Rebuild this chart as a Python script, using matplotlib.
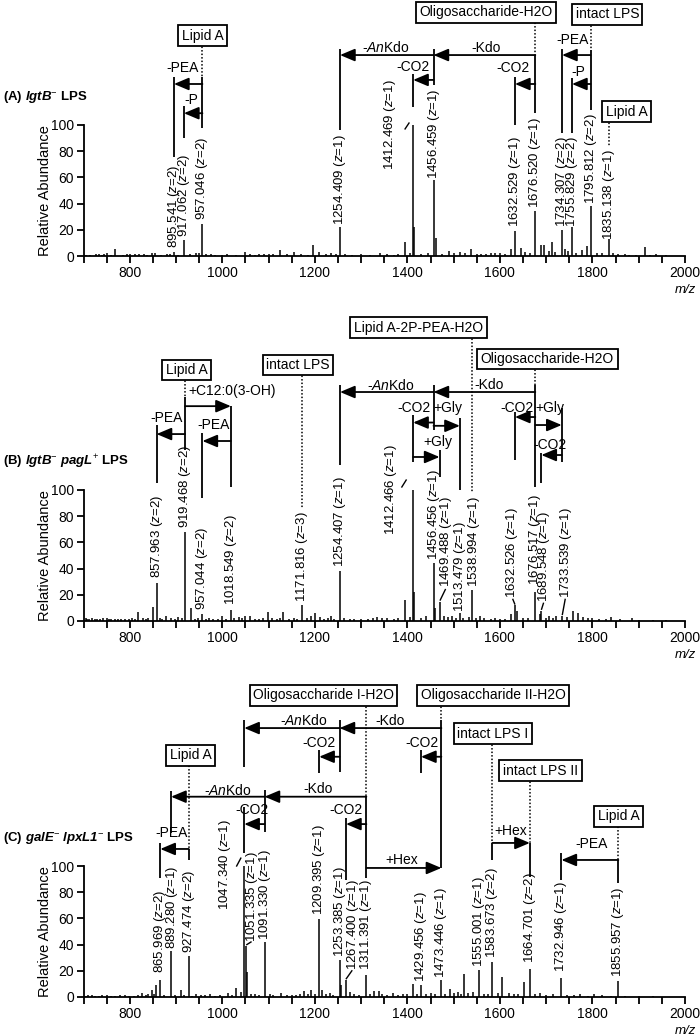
import matplotlib
matplotlib.use("Agg")
import matplotlib.pyplot as plt

plt.rcParams["font.family"] = ["Liberation Sans", "DejaVu Sans"]
plt.rcParams["mathtext.fontset"] = "custom"
plt.rcParams["mathtext.rm"] = "Liberation Sans"
plt.rcParams["mathtext.it"] = "Liberation Sans:italic"
plt.rcParams["mathtext.bf"] = "Liberation Sans:bold"
plt.rcParams["mathtext.bfit"] = "Liberation Sans:italic:bold"

W, H = 700, 1036

# ---- spectra (m/z, relative abundance) ----
A_MZ = [727, 740, 751, 768.5, 800, 812, 830, 855, 868, 895.541, 917.062, 944, 957.046, 975,
        1000, 1048, 1080, 1100, 1125, 1156, 1197, 1209, 1235, 1254.409, 1300, 1340, 1370,
        1395, 1412.469, 1414.5, 1456.459, 1461, 1489, 1513, 1537, 1560, 1581, 1590, 1624,
        1632.529, 1646, 1676.520, 1688, 1696, 1713, 1734.307, 1740, 1755.829, 1778, 1788,
        1795.812, 1835.138, 1856, 1880, 1913, 1938]
A_INT = [1.3, 1.0, 2, 5, 1.5, 1.5, 1.2, 2.5, 1.0, 3, 12, 2.5, 24.6, 1.2,
         1.0, 3, 1.2, 1.5, 4.6, 3, 8.7, 3, 2.5, 22, 1.2, 2, 1.0,
         10.8, 100, 22, 57.7, 14, 4, 3, 5, 1.5, 2.5, 2.5, 5.6,
         19, 6, 34, 8.7, 8.7, 11, 20, 5, 22, 4.6, 7.7,
         38.5, 13, 1.8, 1.0, 7.2, 1.3]
A_NOISE_MZ = [705, 715, 733, 745, 760, 785, 795, 820, 838, 848, 880, 888, 905, 930, 950,
              965, 985, 1010, 1030, 1060, 1070, 1090, 1110, 1140, 1170, 1185, 1225, 1245,
              1265, 1280, 1320, 1355, 1380, 1405, 1430, 1445, 1475, 1500, 1525, 1550, 1570,
              1600, 1610, 1655, 1665, 1705, 1720, 1748, 1765, 1810, 1820, 1845, 1870, 1895,
              1925, 1960]
A_NOISE_INT = [1.0, 0.8, 1.5, 1.2, 1.0, 1.0, 1.2, 1.5, 1.0, 2.0, 1.5, 1.8, 1.0, 1.2, 2.0,
               1.5, 1.0, 1.2, 1.0, 1.5, 1.0, 1.3, 1.5, 1.2, 1.5, 1.0, 1.8, 1.5,
               1.2, 1.0, 1.0, 1.5, 1.8, 2.5, 1.5, 2.0, 1.5, 2.0, 2.5, 1.5, 1.2,
               2.0, 1.5, 3.0, 2.5, 4.0, 3.0, 3.5, 2.5, 2.5, 2.0, 2.0, 1.2, 1.0,
               1.0, 0.8]

B_MZ = [705, 712, 725, 742, 760, 775, 790, 818.7, 840, 849.5, 857.963, 878, 905, 919.468,
        932.5, 957.044, 980, 1000, 1018.549, 1048, 1060, 1098, 1132, 1171.816, 1192, 1200,
        1212, 1235.5, 1254.407, 1300, 1335, 1395, 1412.466, 1414.5, 1456.456, 1460,
        1469.488, 1479.5, 1496, 1513.479, 1532.6, 1538.994, 1556.7, 1600, 1624, 1632.526,
        1637, 1676.517, 1687, 1689.548, 1706, 1721, 1733.539, 1757, 1769, 1779, 1800,
        1841, 1885]
B_INT = [2, 1.5, 1.5, 2, 1.5, 1.5, 1.2, 7, 2, 11, 29, 4, 3, 68,
         10, 5, 1.5, 4, 8.6, 4, 4, 7, 7, 12, 4, 6,
         3, 4, 38, 1.5, 3, 16, 100, 22, 44, 10,
         14.5, 4, 4, 6, 3, 24, 3.5, 1.5, 5, 12,
         8, 22, 5.6, 8, 3.5, 3.5, 4, 8, 6, 3, 2,
         3, 2]
B_NOISE_MZ = [708, 718, 730, 736, 750, 755, 768, 782, 798, 805, 812, 828, 834, 865, 870,
              890, 898, 912, 942, 948, 965, 972, 990, 1008, 1026, 1035, 1042, 1070, 1080,
              1088, 1108, 1118, 1125, 1145, 1155, 1162, 1182, 1220, 1228, 1242, 1262, 1275,
              1285, 1315, 1325, 1345, 1355, 1370, 1380, 1405, 1430, 1440, 1488, 1505, 1520,
              1548, 1565, 1580, 1590, 1612, 1650, 1660, 1700, 1715, 1745, 1790, 1815, 1830,
              1860, 1900, 1930, 1960]
B_NOISE_INT = [1.5, 2.0, 1.8, 1.2, 2.2, 1.5, 1.8, 1.2, 1.5, 2.0, 1.5, 2.5, 1.8, 2.0, 1.5,
               2.2, 1.5, 2.5, 1.5, 2.0, 1.8, 2.0, 1.5, 1.8, 2.0, 3.0, 2.5, 1.5, 1.8,
               2.0, 2.5, 1.5, 2.0, 1.8, 2.5, 1.5, 2.0, 1.8, 2.0, 1.5, 2.0, 1.5,
               1.8, 1.5, 2.0, 2.5, 2.0, 1.5, 2.5, 3.0, 2.5, 3.5, 3.0, 2.5, 2.0,
               2.5, 2.0, 1.5, 2.0, 1.8, 2.0, 2.5, 2.5, 2.0, 3.0, 2.0, 1.5, 1.5,
               1.2, 1.0, 1.0, 0.8]

C_MZ = [710, 725, 740, 760, 790, 810, 826, 847.6, 857, 865.969, 889.280, 910, 927.474, 944,
        973, 1011.6, 1029, 1040.6, 1047.340, 1051.335, 1053.5, 1091.330, 1127, 1150,
        1175.6, 1192, 1209.395, 1216, 1233.5, 1253.385, 1257.6, 1267.400, 1277, 1311.391,
        1328, 1337.7, 1368, 1390, 1412, 1429.456, 1473.446, 1492, 1508.5, 1523, 1542,
        1555.001, 1583.673, 1605, 1619, 1653, 1664.701, 1687, 1732.946, 1774, 1803,
        1855.957, 1900]
C_INT = [1.2, 1, 1.2, 1, 1.5, 1, 3.3, 5, 9, 13, 35.4, 5, 31.6, 2.5,
         2.5, 3, 7, 3.8, 100, 39, 19, 41.8, 3, 1.5,
         4.6, 5, 59.5, 5, 3, 28.4, 9, 12.7, 4, 17,
         4.6, 4.3, 3, 2, 10, 9, 12.7, 6.3, 3.8, 17.7, 4,
         20.3, 26.6, 15, 3, 11.4, 21.5, 3, 14.7, 2, 2.5,
         12.2, 1]
C_NOISE_MZ = [705, 718, 733, 750, 768, 778, 798, 818, 835, 840, 852, 875, 898, 918, 935,
              955, 962, 985, 995, 1020, 1062, 1070, 1080, 1102, 1110, 1140, 1160, 1168,
              1185, 1200, 1225, 1240, 1285, 1295, 1320, 1345, 1355, 1380, 1400, 1420, 1440,
              1450, 1460, 1482, 1500, 1515, 1532, 1565, 1575, 1595, 1630, 1640, 1675, 1700,
              1715, 1745, 1760, 1790, 1820, 1840, 1870, 1930]
C_NOISE_INT = [1.0, 1.3, 0.8, 1.2, 1.0, 1.5, 1.0, 1.2, 1.5, 2.0, 2.5, 1.5, 1.2, 1.5, 1.0,
               1.2, 1.5, 1.0, 1.3, 1.5, 2.5, 2.0, 1.5, 2.0, 1.5, 1.2, 1.5, 2.0,
               2.5, 2.0, 2.5, 1.8, 2.0, 1.5, 2.5, 2.0, 1.5, 1.5, 2.0, 2.5, 2.0,
               3.0, 2.5, 2.0, 3.0, 2.5, 3.0, 2.5, 2.0, 3.0, 2.0, 2.5, 2.0, 1.5,
               2.0, 1.5, 1.2, 1.0, 1.2, 1.0, 0.8, 0.8]

X_TICKS = list(range(700, 2001, 50))
X_TICKLABELS = [str(t) if t % 200 == 0 and t > 700 else "" for t in X_TICKS]
Y_TICKS = [0, 20, 40, 60, 80, 100]

TITLES = {
    "A": r"(A) $\mathbfit{lgtB}^{-}$ LPS",
    "B": r"(B) $\mathbfit{lgtB}^{-}$ $\mathbfit{pagL}^{+}$ LPS",
    "C": r"(C) $\mathbfit{galE}^{-}$ $\mathbfit{lpxL1}^{-}$ LPS",
}
ANKDO = r"-$\mathit{An}$Kdo"

# ---- annotations, per panel ----
# peak labels: (m/z text, charge, x, label bottom)
A_LABELS = [("895.541", 2, 895.541, 6), ("917.062", 2, 917.062, 14.5),
            ("957.046", 2, 957.046, 27.5), ("1254.409", 1, 1254.409, 24),
            ("1412.469", 1, 1362, 66), ("1456.459", 1, 1456.459, 59),
            ("1632.529", 1, 1632.529, 22), ("1676.520", 1, 1676.520, 37),
            ("1734.307", 2, 1734.307, 22), ("1755.829", 2, 1755.829, 22),
            ("1795.812", 2, 1795.812, 40), ("1835.138", 1, 1835.138, 12)]
A_BOXES = [("Lipid A", 957.046, 168), ("Oligosaccharide-H2O", 1570, 186),
           ("intact LPS", 1832, 184.5), ("Lipid A", 1874, 110)]
A_ARROWS = [(957.046, 895.541, 131.3), (957.046, 917.062, 109),
            (1676.520, 1456.459, 153.4), (1456.459, 1254.409, 153.4),
            (1456.459, 1412.469, 134.4), (1676.520, 1632.529, 131.3),
            (1795.812, 1734.307, 153.4), (1795.812, 1755.829, 131.3)]
A_NOTES = [("-PEA", 915, 143.5), ("-P", 932, 119), (ANKDO, 1354, 158.8),
           ("-Kdo", 1570, 158.8), ("-CO2", 1412, 144.3), ("-CO2", 1628, 143.5),
           ("-PEA", 1756, 165), ("-P", 1769, 140.5)]
A_SOLID = [(895.541, 136.6, 75.6), (917.062, 114.5, 90), (957.046, 136.6, 97.7),
           (1254.409, 158, 96), (1412.469, 139, 113.7), (1456.459, 158, 130.5),
           (1632.529, 136.6, 100), (1676.520, 153.4, 109), (1734.307, 158, 94),
           (1755.829, 136, 94), (1795.812, 157, 111.5)]
A_DOTTED = [(957.046, 168, 136.6), (1676.520, 186, 153.4), (1795.812, 184, 157),
            (1835.138, 110, 83)]
A_LINKS = [(1395, 97, 1403.5, 101.5)]

B_LABELS = [("857.963", 2, 857.963, 32.8), ("919.468", 2, 919.468, 71),
            ("957.044", 2, 957.044, 8.4), ("1018.549", 2, 1018.549, 12),
            ("1171.816", 3, 1171.816, 14.7), ("1254.407", 1, 1254.407, 41.5),
            ("1412.466", 1, 1363.7, 65.6), ("1456.456", 1, 1456.456, 46.6),
            ("1469.488", 1, 1484.3, 26), ("1513.479", 1, 1513.7, 7),
            ("1538.994", 1, 1544, 26), ("1632.526", 1, 1627, 17.5),
            ("1676.517", 1, 1676.517, 27.5), ("1689.548", 1, 1694.8, 14.7),
            ("1733.539", 1, 1742.8, 17.5)]
B_BOXES = [("Lipid A", 922.6, 191.6), ("intact LPS", 1163.6, 195.4),
           ("Lipid A-2P-PEA-H2O", 1424, 223.7), ("Oligosaccharide-H2O", 1702.8, 200)]
B_ARROWS = [(919.468, 1018.549, 164), (919.468, 857.963, 142.7), (1018.549, 957.044, 137.4),
            (1676.517, 1456.456, 174.8), (1456.456, 1254.407, 174.8),
            (1456.456, 1412.466, 151.5), (1456.456, 1513.479, 149),
            (1412.466, 1469.488, 125.2), (1676.517, 1632.526, 155.7),
            (1676.517, 1733.539, 149.6), (1733.539, 1689.548, 126.7)]
B_NOTES = [("-PEA", 880.5, 155), ("-PEA", 982, 149.6), (ANKDO, 1363.7, 180),
           ("-Kdo", 1576.4, 180), ("-CO2", 1414.3, 162.6), ("+Gly", 1487.8, 162.6),
           ("+Gly", 1466, 136.6), ("-CO2", 1637, 162.6), ("+Gly", 1708, 162.6),
           ("-CO2", 1708, 134.4)]
B_LEFTNOTES = [("+C12:0(3-OH)", 925.8, 175.6)]
B_SOLID = [(857.963, 149.6, 105.3), (919.468, 171, 130.5), (957.044, 143.5, 93.9),
           (1018.549, 164, 102.3), (1254.407, 180, 119), (1412.466, 157.3, 121.4),
           (1456.456, 180, 145.8), (1469.488, 130.5, 110), (1513.479, 155, 100),
           (1632.526, 159.5, 123), (1676.517, 180, 102.3), (1689.548, 128.2, 105.3),
           (1733.539, 162.6, 121.4)]
B_DOTTED = [(919.468, 191.6, 171), (1171.816, 195.4, 86), (1538.994, 223.7, 97.7),
            (1676.517, 200, 180)]
B_LINKS = [(1388, 102.3, 1397.4, 107.6), (1471, 16, 1482, 24), (1632, 13, 1628, 16.5),
           (1690, 9, 1694, 13.5), (1735, 5, 1741, 16.5)]

C_LABELS = [("865.969", 2, 865.969, 18.3), ("889.280", 1, 891, 37),
            ("927.474", 2, 927.474, 33.6), ("1047.340", 1, 1006.8, 66.4),
            ("1051.335", 1, 1064, 42.2), ("1091.330", 1, 1091.330, 43.5),
            ("1209.395", 1, 1209.395, 62.6), ("1253.385", 1, 1253.385, 30.8),
            ("1267.400", 1, 1281.8, 20.6), ("1311.391", 1, 1311.391, 20.6),
            ("1429.456", 1, 1429.456, 11.7), ("1473.446", 1, 1473.446, 14.5),
            ("1555.001", 1, 1555.001, 23), ("1583.673", 2, 1583.673, 29.8),
            ("1664.701", 2, 1664.701, 26), ("1732.946", 1, 1732.946, 19.3),
            ("1855.957", 1, 1855.957, 15.5)]
C_BOXES = [("Oligosaccharide I-H2O", 1218.7, 230.2), ("Oligosaccharide II-H2O", 1585, 230.2),
           ("intact LPS I", 1585, 201.1), ("intact LPS II", 1687.7, 172.7),
           ("Lipid A", 931.2, 184.7), ("Lipid A", 1856.3, 138)]
C_ARROWS = [(1473.446, 1253.385, 205.3), (1253.385, 1047.340, 205.3),
            (1253.385, 1209.395, 183.4), (1473.446, 1429.456, 183.4),
            (1311.391, 1091.330, 152.9), (1091.330, 889.280, 152.9),
            (1091.330, 1047.340, 132), (1311.391, 1267.400, 132),
            (927.474, 865.969, 113), (1311.391, 1473.446, 98.5),
            (1583.673, 1664.701, 117.6), (1855.957, 1732.946, 104.6)]
C_NOTES = [(ANKDO, 1175.7, 210.9), ("-Kdo", 1362.4, 210.9), ("-CO2", 1209, 193.9),
           ("-CO2", 1431.6, 193.9), (ANKDO, 1011.6, 158), ("-Kdo", 1206.8, 158.8),
           ("-CO2", 1064, 142.7), ("-CO2", 1267.3, 142.7), ("-PEA", 891.3, 125.2),
           ("+Hex", 1388, 104.6), ("+Hex", 1624, 127), ("-PEA", 1797.9, 116.8)]
C_SOLID = [(1047.340, 211.5, 175.8), (1047.340, 145, 110), (1253.385, 211.5, 172),
           (1209.395, 188.5, 171), (1429.456, 188.5, 171), (1473.446, 211.5, 98.5),
           (1311.391, 152.9, 90.8), (889.280, 157.5, 125.2), (927.474, 113, 104.6),
           (1091.330, 158, 126.2), (1267.400, 136.6, 89.3), (865.969, 117.6, 90.8),
           (1583.673, 117.6, 104.6), (1664.701, 117.6, 91.6), (1855.957, 104.6, 87),
           (1732.946, 110, 89.3)]
C_DOTTED = [(1311.391, 230, 152.9), (1473.446, 230, 211.5), (927.474, 184.7, 113),
            (1583.673, 201, 117.6), (1664.701, 172.7, 117.6), (1855.957, 138, 104.6)]
C_LINKS = [(1031, 100, 1040, 106), (1053, 40, 1062, 42), (1268, 14, 1280, 20)]

PANELS = [
    ("A", 256, A_MZ + A_NOISE_MZ, A_INT + A_NOISE_INT, A_LABELS, A_BOXES, A_ARROWS,
     A_NOTES, [], A_SOLID, A_DOTTED, A_LINKS),
    ("B", 621, B_MZ + B_NOISE_MZ, B_INT + B_NOISE_INT, B_LABELS, B_BOXES, B_ARROWS,
     B_NOTES, B_LEFTNOTES, B_SOLID, B_DOTTED, B_LINKS),
    ("C", 997, C_MZ + C_NOISE_MZ, C_INT + C_NOISE_INT, C_LABELS, C_BOXES, C_ARROWS,
     C_NOTES, [], C_SOLID, C_DOTTED, C_LINKS),
]

LW = 1.3
fig = plt.figure(figsize=(W / 100, H / 100), dpi=100)

for key, y0px, mz, inten, labels, boxes, arrows, notes, leftnotes, solid, dotted, links in PANELS:
    ax = fig.add_axes([83.5 / W, 1 - y0px / H, 601.5 / W, 131 / H])
    ax.vlines(mz, 0, inten, color="k", lw=1.1)
    ax.set_xlim(700, 2000)
    ax.set_ylim(0, 100)
    ax.set_xticks(X_TICKS)
    ax.set_xticklabels(X_TICKLABELS)
    ax.set_yticks(Y_TICKS)
    for s in ("top", "right"):
        ax.spines[s].set_visible(False)
    for s in ("left", "bottom"):
        ax.spines[s].set_linewidth(1.3)
    ax.tick_params(length=5, width=1.3, labelsize=10, pad=2)
    ax.set_ylabel("Relative Abundance", fontsize=10.5, labelpad=-1)
    ax.text(2000, -26, "m/z", fontstyle="italic", fontsize=9.5, ha="center", va="center",
            clip_on=False)
    fig.text(3 / W, 1 - (y0px - 159) / H, TITLES[key], fontsize=9.5, fontweight="bold",
             ha="left", va="center")

    for x, top, bot in solid:
        ax.plot([x, x], [top, bot], color="k", lw=LW, clip_on=False, solid_capstyle="butt")
    for x, top, bot in dotted:
        ax.plot([x, x], [top, bot], color="k", lw=1.1, ls=(0, (1, 1.3)), clip_on=False)
    for x0, y0, x1, y1 in links:
        ax.plot([x0, x1], [y0, y1], color="k", lw=1.0, clip_on=False)
    for x0, x1, y in arrows:
        ax.annotate("", xy=(x1, y), xytext=(x0, y), annotation_clip=False,
                    arrowprops=dict(arrowstyle="-|>,head_length=0.9,head_width=0.38",
                                    color="k", lw=LW, shrinkA=0, shrinkB=0))
    for txt, x, y in notes:
        ax.text(x, y, txt, fontsize=10, ha="center", va="center", clip_on=False)
    for txt, x, y in leftnotes:
        ax.text(x, y, txt, fontsize=10, ha="left", va="center", clip_on=False)
    for txt, x, y in boxes:
        ax.text(x, y, txt, fontsize=10, ha="center", va="center", clip_on=False, zorder=5,
                bbox=dict(boxstyle="square,pad=0.25", fc="white", ec="k", lw=1.3))
    for txt, z, x, y in labels:
        ax.text(x, y, txt + r" ($\mathit{z}$=" + str(z) + ")", rotation=90, fontsize=9.5,
                ha="center", va="bottom", clip_on=False)

fig.savefig("out.png", dpi=100)
